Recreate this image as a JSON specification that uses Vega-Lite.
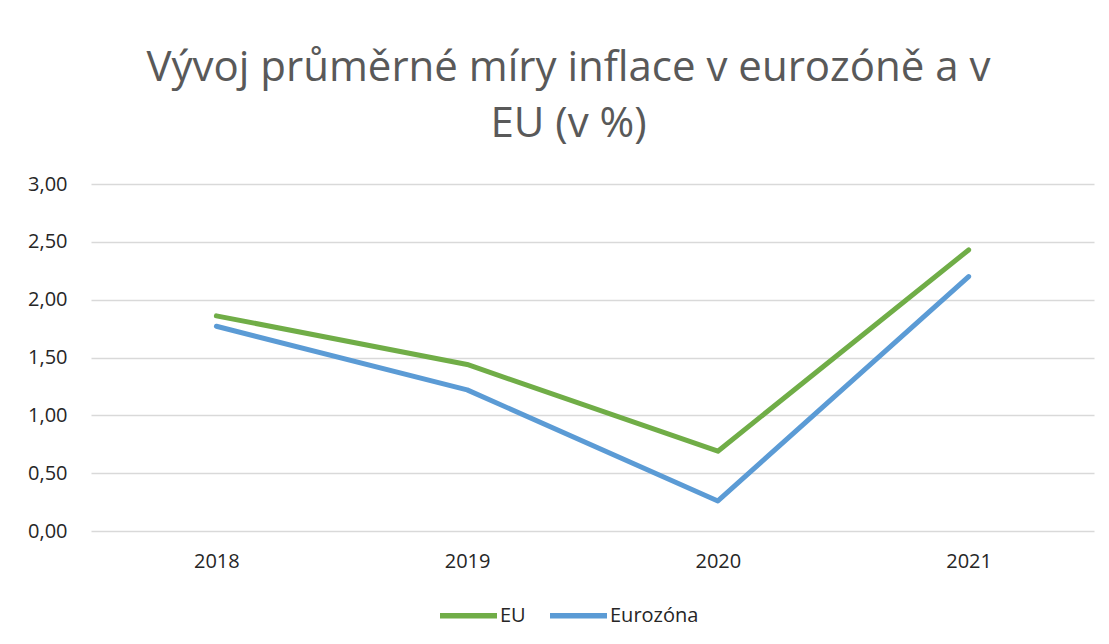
{
  "$schema": "https://vega.github.io/schema/vega-lite/v6.json",
  "width": 1003,
  "height": 347,
  "autosize": "none",
  "padding": {"left": 91, "top": 184, "right": 15, "bottom": 113},
  "background": "white",
  "title": {
    "text": ["Vývoj průměrné míry inflace v eurozóně a v", "EU (v %)"],
    "anchor": "middle",
    "dx": -24,
    "font": "Open Sans",
    "fontSize": 42,
    "fontWeight": "normal",
    "color": "#595959",
    "lineHeight": 56,
    "offset": 28
  },
  "data": {
    "values": [
      {"year": "2018", "series": "EU", "value": 1.86},
      {"year": "2019", "series": "EU", "value": 1.44},
      {"year": "2020", "series": "EU", "value": 0.69},
      {"year": "2021", "series": "EU", "value": 2.43},
      {"year": "2018", "series": "Eurozóna", "value": 1.77},
      {"year": "2019", "series": "Eurozóna", "value": 1.22},
      {"year": "2020", "series": "Eurozóna", "value": 0.26},
      {"year": "2021", "series": "Eurozóna", "value": 2.2}
    ]
  },
  "mark": {"type": "line", "strokeWidth": 5, "strokeCap": "round", "strokeJoin": "round"},
  "encoding": {
    "x": {
      "field": "year",
      "type": "nominal",
      "scale": {"type": "point", "padding": 0.5},
      "axis": {
        "title": null,
        "labelAngle": 0,
        "ticks": false,
        "domain": false,
        "grid": false,
        "labelPadding": 20,
        "labelFont": "Open Sans",
        "labelFontSize": 20,
        "labelColor": "#262626"
      }
    },
    "y": {
      "field": "value",
      "type": "quantitative",
      "scale": {"domain": [0, 3], "nice": false, "zero": true},
      "axis": {
        "title": null,
        "values": [0, 0.5, 1, 1.5, 2, 2.5, 3],
        "labelExpr": "replace(format(datum.value, '.2f'), '.', ',')",
        "ticks": false,
        "domain": false,
        "grid": true,
        "gridColor": "#D9D9D9",
        "gridWidth": 1.3,
        "labelPadding": 24,
        "labelFont": "Open Sans",
        "labelFontSize": 20,
        "labelColor": "#262626"
      }
    },
    "color": {
      "field": "series",
      "type": "nominal",
      "scale": {"domain": ["EU", "Eurozóna"], "range": ["#70AD47", "#5B9BD5"]},
      "legend": {
        "title": null,
        "orient": "none",
        "direction": "horizontal",
        "legendX": 346,
        "legendY": 400,
        "symbolType": "stroke",
        "symbolSize": 3249,
        "symbolStrokeWidth": 5.5,
        "labelFont": "Open Sans",
        "labelFontSize": 20,
        "labelColor": "#262626",
        "labelOffset": 0,
        "columnPadding": 13
      }
    }
  },
  "config": {"view": {"stroke": null}}
}
